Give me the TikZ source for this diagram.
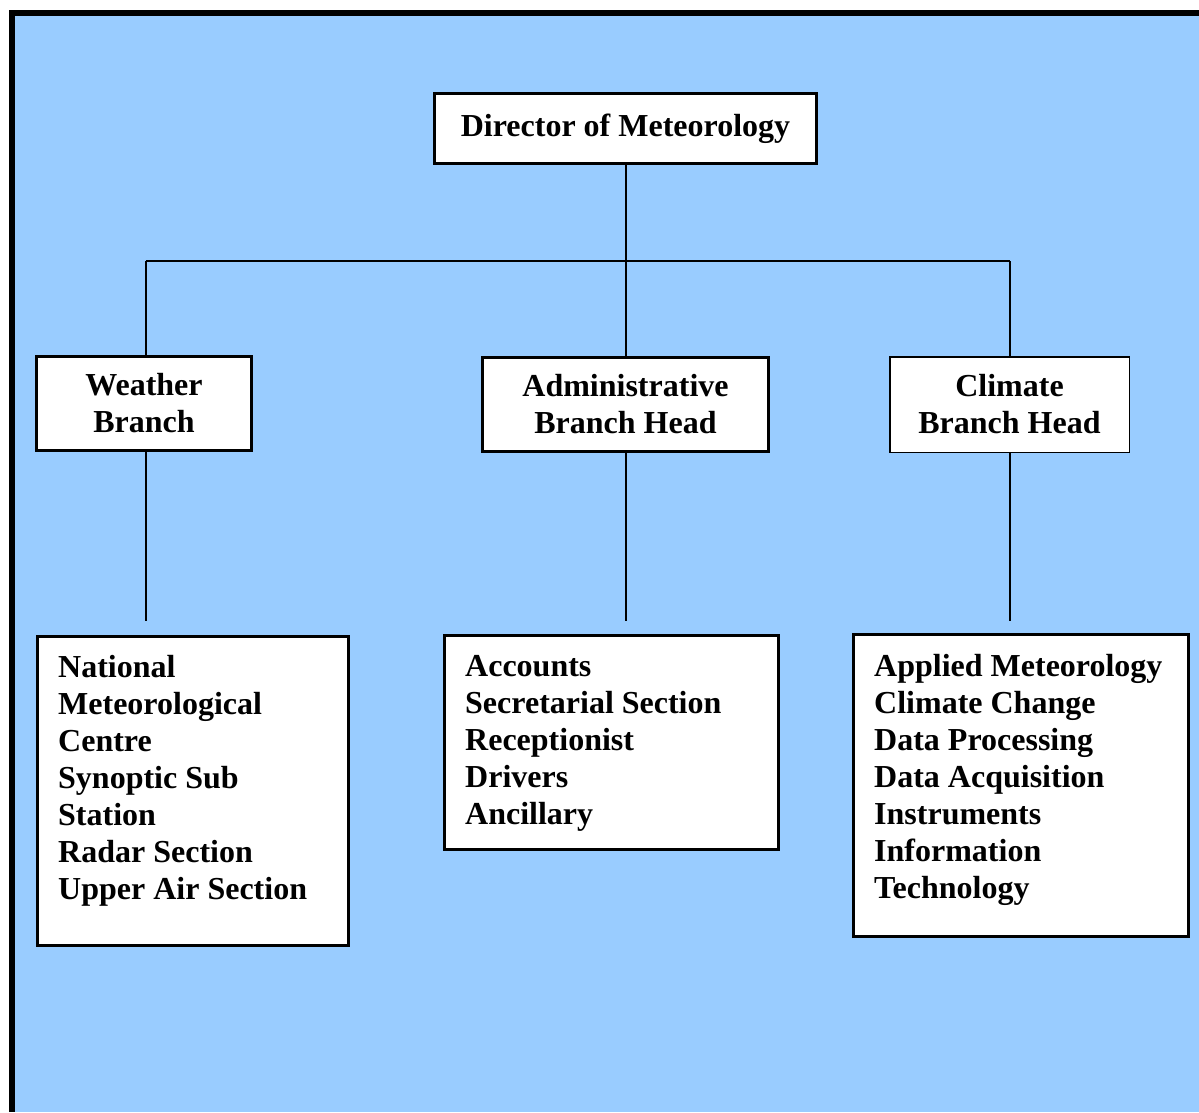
\documentclass[tikz,border=0pt]{standalone}
\usepackage{fontspec}
\setmainfont{Liberation Serif}
\usetikzlibrary{calc}
\definecolor{bgblue}{RGB}{153,204,255}
\begin{document}
\begin{tikzpicture}[x=1pt,y=-1pt,
  headbox/.style={draw=black,fill=white,line width=3pt,inner sep=0pt,align=center,
    font=\fontsize{32}{37}\selectfont\bfseries},
  thinbox/.style={headbox,line width=1.5pt},
  listbox/.style={draw=black,fill=white,line width=3pt,inner sep=0pt},
  listtext/.style={inner sep=0pt,align=left,anchor=north west,
    font=\fontsize{32}{37}\selectfont\bfseries},
  conn/.style={draw=black,line width=2pt}]
\useasboundingbox (0,0) rectangle (1199,1112);
\fill[black] (9,10) rectangle (1199,1112);
\fill[bgblue] (15,16) rectangle (1199,1112);
% top level
\node[headbox,minimum width=382pt,minimum height=70pt] (dir) at (625.5,128.5) {Director of Meteorology};
% branches
\node[headbox,minimum width=215pt,minimum height=94pt] (wb) at (144,403.5) {Weather\\Branch};
\node[headbox,minimum width=286pt,minimum height=94pt] (ab) at (625.5,404.5) {Administrative\\Branch Head};
\node[thinbox,minimum width=239.5pt,minimum height=95.5pt] (cb) at (1009.5,404.5) {Climate\\Branch Head};
% lists
\node[listbox,minimum width=311pt,minimum height=309pt] (nat) at (193,791) {};
\node[listbox,minimum width=334pt,minimum height=214pt] (acc) at (611.5,742.5) {};
\node[listbox,minimum width=335pt,minimum height=302pt] (app) at (1021,785.5) {};
\node[listtext] (natt) at (58,655) {National\\Meteorological\\Centre\\Synoptic Sub\\Station\\Radar Section\\Upper Air Section};
\node[listtext] (acct) at (465,655) {Accounts\\Secretarial Section\\Receptionist\\Drivers\\Ancillary};
\node[listtext] (appt) at (874,654) {Applied Meteorology\\Climate Change\\Data Processing\\Data Acquisition\\Instruments\\Information\\Technology};
% connectors
\coordinate (busL) at (146,261);
\coordinate (busM) at (626,261);
\coordinate (busR) at (1010,261);
\coordinate (endL) at (146,621);
\coordinate (endM) at (626,621);
\coordinate (endR) at (1010,621);
\draw[conn] (dir.south -| busM) -- (busM);
\draw[conn] (busL) -- (busR);
\draw[conn] (busL) -- (busL |- wb.north);
\draw[conn] (busM) -- (busM |- ab.north);
\draw[conn] (busR) -- (busR |- cb.north);
\draw[conn] (endL |- wb.south) -- (endL);
\draw[conn] (endM |- ab.south) -- (endM);
\draw[conn] (endR |- cb.south) -- (endR);
\end{tikzpicture}
\end{document}
